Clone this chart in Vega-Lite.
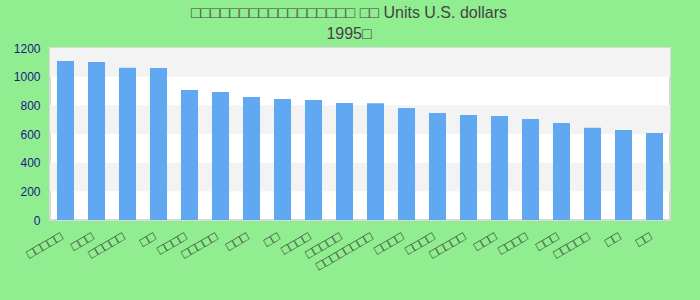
{
  "$schema": "https://vega.github.io/schema/vega-lite/v6.json",
  "width": 620,
  "height": 172,
  "autosize": {"type": "none"},
  "padding": {"left": 50, "top": 48, "right": 30, "bottom": 80},
  "background": "#90ee90",
  "config": {
    "view": {"stroke": "#d9d9d9", "strokeWidth": 2, "fill": "white"},
    "font": "Liberation Sans"
  },
  "title": {
    "text": ["□□□□□□□□□□□□□□□□□ □□ Units U.S. dollars", "1995□"],
    "fontSize": 16,
    "fontWeight": "normal",
    "color": "#444444",
    "anchor": "middle",
    "dx": -11,
    "offset": 0,
    "lineHeight": 21
  },
  "datasets": {
    "bands": [
      {"from": 200, "to": 400},
      {"from": 600, "to": 800},
      {"from": 1000, "to": 1200}
    ],
    "rows": [
      {"key": "01|□□□□□", "value": 1109},
      {"key": "02|□□□", "value": 1102},
      {"key": "03|□□□□□", "value": 1062},
      {"key": "04|□□", "value": 1060},
      {"key": "05|□□□□", "value": 907},
      {"key": "06|□□□□□", "value": 893},
      {"key": "07|□□□", "value": 858},
      {"key": "08|□□", "value": 845},
      {"key": "09|□□□□", "value": 837},
      {"key": "10|□□□□□", "value": 817},
      {"key": "11|□□□□□□□□", "value": 815},
      {"key": "12|□□□□", "value": 781},
      {"key": "13|□□□□", "value": 747},
      {"key": "14|□□□□□", "value": 733},
      {"key": "15|□□□", "value": 726},
      {"key": "16|□□□□", "value": 705},
      {"key": "17|□□□", "value": 677},
      {"key": "18|□□□□□", "value": 643},
      {"key": "19|□□", "value": 628},
      {"key": "20|□□", "value": 607}
    ]
  },
  "layer": [
    {
      "data": {"name": "bands"},
      "mark": {"type": "rect", "color": "#f3f3f3"},
      "encoding": {
        "y": {
          "field": "from",
          "type": "quantitative",
          "scale": {"domain": [0, 1200], "nice": false},
          "axis": {"title": null, "grid": false, "ticks": false, "domain": false, "labelColor": "#1a1a80", "labelFontSize": 12, "labelPadding": 10, "format": "d", "values": [0, 200, 400, 600, 800, 1000, 1200]}
        },
        "y2": {"field": "to"}
      }
    },
    {
      "data": {"name": "rows"},
      "mark": {"type": "bar", "color": "#61a8f3"},
      "encoding": {
        "x": {
          "field": "key",
          "type": "nominal",
          "sort": null,
          "scale": {"paddingInner": 0.45, "paddingOuter": 0.225},
          "axis": {"title": null, "labelAngle": -30, "ticks": false, "domain": false, "labelColor": "#333333", "labelFontSize": 13, "labelPadding": 10, "labelOffset": -7, "labelOverlap": false, "labelLimit": 200, "labelExpr": "split(datum.label, '|')[1]"}
        },
        "y": {
          "field": "value",
          "type": "quantitative",
          "axis": {"title": null, "grid": false, "ticks": false, "domain": false, "labelColor": "#1a1a80", "labelFontSize": 12, "labelPadding": 10, "format": "d", "values": [0, 200, 400, 600, 800, 1000, 1200]}
        }
      }
    }
  ]
}
